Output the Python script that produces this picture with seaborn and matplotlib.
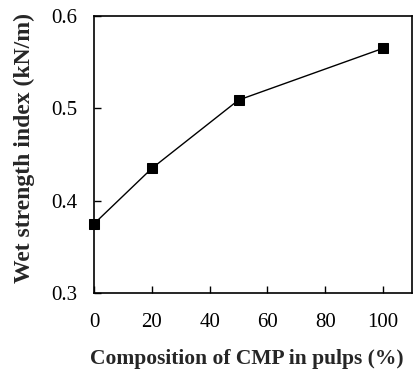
import matplotlib
matplotlib.use("Agg")
import matplotlib.pyplot as plt
import seaborn as sns
import pandas as pd

composition = [0, 20, 50, 100]
wet_strength = [0.375, 0.435, 0.509, 0.565]

sns.set_theme(style="ticks")
plt.rcParams['font.family'] = ['Liberation Serif', 'DejaVu Serif']

df = pd.DataFrame({"x": composition, "y": wet_strength})
fig = plt.figure(figsize=(4.14, 3.72), dpi=100)
ax = fig.add_axes([0.227, 0.212, 0.768, 0.745])
sns.lineplot(data=df, x="x", y="y", ax=ax, color="black", linewidth=1.0,
             marker="s", markersize=7, markeredgecolor="black", markerfacecolor="black",
             clip_on=False)
ax.set_xlim(0, 110)
ax.set_ylim(0.3, 0.6)
ax.set_xticks([0, 20, 40, 60, 80, 100])
ax.set_yticks([0.3, 0.4, 0.5, 0.6])
ax.set_yticklabels(["0.3", "0.4", "0.5", "0.6"])
ax.tick_params(direction="in", length=5, width=1, labelsize=15, colors="black", pad=12)
ax.tick_params(axis="x", pad=14)
for s in ax.spines.values():
    s.set_color("black")
    s.set_linewidth(1.2)
ax.set_xlabel("Composition of CMP in pulps (%)", fontsize=15.5, fontweight="bold")
ax.set_ylabel("Wet strength index (kN/m)", fontsize=17, fontweight="bold")
ax.xaxis.set_label_coords(0.48, -0.2)
ax.yaxis.set_label_coords(-0.185, 0.525)
fig.savefig("out.png", dpi=100)
